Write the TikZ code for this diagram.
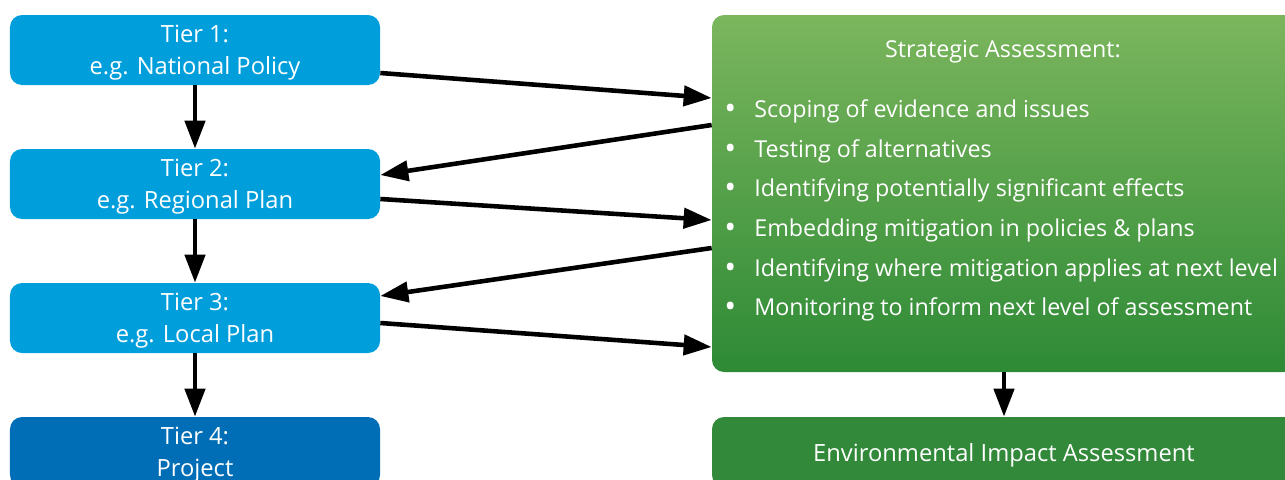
\documentclass[tikz,border=0pt]{standalone}
\usepackage{fontspec}
\setmainfont{Open Sans}
\usetikzlibrary{arrows.meta}

\definecolor{tierblue}{HTML}{009EDB}
\definecolor{projblue}{HTML}{006EB6}
\definecolor{satop}{HTML}{7BB65D}
\definecolor{sabot}{HTML}{2E8A36}
\definecolor{eiagreen}{HTML}{318939}

\tikzset{
  tier/.style={rectangle, rounded corners=0.24cm, fill=tierblue, text=white,
    minimum width=7.4cm, minimum height=1.4cm, align=center, inner sep=0pt,
    text depth=0pt, font=\fontsize{13.5}{18.2}\selectfont},
  sabox/.style={rectangle, rounded corners=0.24cm, top color=satop, bottom color=sabot,
    minimum width=11.68cm, minimum height=7.14cm, inner sep=0pt},
  item/.style={anchor=base west, inner sep=0pt, text=white, font=\fontsize{13.25}{16}\selectfont},
  flow/.style={-{Triangle[length=0.56cm,width=0.4cm]}, line width=2.6pt}
}
\newcommand{\itembullet}{\makebox[0.6cm][l]{\raisebox{-1pt}{\fontsize{18}{18}\selectfont\textbullet}}}

\begin{document}
\begin{tikzpicture}
    \useasboundingbox (0,0) rectangle (25.7,-9.58);

    % Tiers of plans
    \node[tier] (t1) at (3.9,-1.0) {Tier 1:\\e.g. National Policy};
    \node[tier] (t2) at (3.9,-3.68) {Tier 2:\\e.g. Regional Plan};
    \node[tier] (t3) at (3.9,-6.36) {Tier 3:\\e.g. Local Plan};
    \node[tier, fill=projblue] (t4) at (3.9,-9.04) {Tier 4:\\Project};

    % Assessment boxes
    \node[sabox] (sa) at (20.08,-3.87) {};
    \node[tier, fill=eiagreen, minimum width=11.68cm] (eia) at (20.08,-9.04) {Environmental Impact Assessment};

    % Strategic assessment contents
    \node[item, anchor=center] (sahead) at (20.06,-1.04) {Strategic Assessment:};
    \node[item] (i1) at (14.48,-2.35) {\itembullet Scoping of evidence and issues};
    \node[item] (i2) at (14.48,-3.15) {\itembullet Testing of alternatives};
    \node[item] (i3) at (14.48,-3.93) {\itembullet Identifying potentially significant effects};
    \node[item] (i4) at (14.48,-4.73) {\itembullet Embedding mitigation in policies \& plans};
    \node[item] (i5) at (14.48,-5.53) {\itembullet Identifying where mitigation applies at next level};
    \node[item] (i6) at (14.48,-6.31) {\itembullet Monitoring to inform next level of assessment};

    % Down the tiers
    \draw[flow] (t1.south) -- (t2.north);
    \draw[flow] (t2.south) -- (t3.north);
    \draw[flow] (t3.south) -- (t4.north);
    \draw[flow] (sa.south) -- (eia.north);

    % To and from the strategic assessment
    \draw[flow] ([yshift=-0.46cm]t1.east) -- ([yshift=1.91cm]sa.west);
    \draw[flow] ([yshift=1.37cm]sa.west) -- ([yshift=0.18cm]t2.east);
    \draw[flow] ([yshift=-0.30cm]t2.east) -- ([yshift=-0.53cm]sa.west);
    \draw[flow] ([yshift=-1.09cm]sa.west) -- ([yshift=0.44cm]t3.east);
    \draw[flow] ([yshift=-0.10cm]t3.east) -- ([yshift=-3.07cm]sa.west);
\end{tikzpicture}
\end{document}
